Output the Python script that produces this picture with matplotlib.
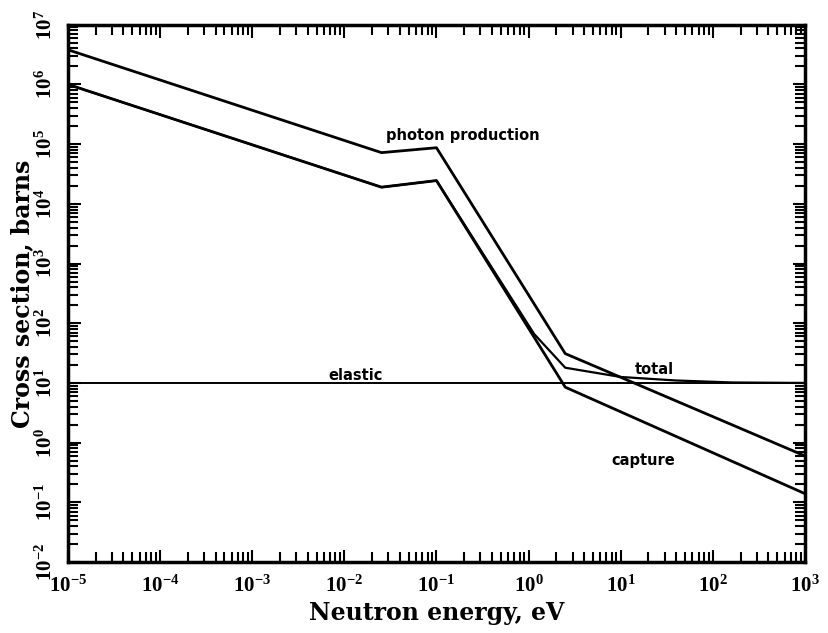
import numpy as np
import matplotlib
matplotlib.use('Agg')
import matplotlib.pyplot as plt
from matplotlib.ticker import LogLocator, FixedLocator, FixedFormatter, NullFormatter

# Mathtext in a bold serif for the 10^n tick labels
plt.rcParams['mathtext.fontset'] = 'custom'
plt.rcParams['mathtext.rm'] = 'Liberation Serif:bold'
plt.rcParams['mathtext.bf'] = 'Liberation Serif:bold'
plt.rcParams['mathtext.it'] = 'Liberation Serif:bold'

# Curve data (energy in eV, cross section in barns)
photon_energy = [1e-5, 0.0253, 0.1, 2.5, 1000]
photon_xs = [3.8e6, 7.2e4, 8.7e4, 31, 0.6]

capture_energy = [1e-5, 0.0253, 0.1, 2.5, 1000]
capture_xs = [1.0e6, 1.9e4, 2.45e4, 8.5, 0.14]

total_energy = [1e-5, 0.0253, 0.1, 1.15, 2.5, 10, 40, 160, 1000]
total_xs = [1.0e6, 1.9e4, 2.45e4, 66, 18, 12.6, 11, 10.2, 10]

elastic_energy = [1e-5, 1000]
elastic_xs = [10, 10]

x_decades = [-5, -4, -3, -2, -1, 0, 1, 2, 3]
y_decades = [-2, -1, 0, 1, 2, 3, 4, 5, 6, 7]

fig = plt.figure(figsize=(8.29, 6.33), dpi=100)
ax = fig.add_axes([0.082, 0.112, 0.889, 0.849])

ax.plot(photon_energy, photon_xs, color='black', lw=2.0)
ax.plot(capture_energy, capture_xs, color='black', lw=2.0)
ax.plot(total_energy, total_xs, color='black', lw=1.6)
ax.plot(elastic_energy, elastic_xs, color='black', lw=1.4)

ax.set_xscale('log')
ax.set_yscale('log')
ax.set_xlim(1e-5, 1e3)
ax.set_ylim(1e-2, 1e7)

# Tick labels as 10^n
xt = [10.0 ** d for d in x_decades]
yt = [10.0 ** d for d in y_decades]
ax.xaxis.set_major_locator(FixedLocator(xt))
ax.xaxis.set_major_formatter(FixedFormatter([r'$10^{%d}$' % d for d in x_decades]))
ax.yaxis.set_major_locator(FixedLocator(yt))
ax.yaxis.set_major_formatter(FixedFormatter([r'$10^{%d}$' % d for d in y_decades]))
ax.xaxis.set_minor_locator(LogLocator(base=10, subs=np.arange(2, 10), numticks=50))
ax.yaxis.set_minor_locator(LogLocator(base=10, subs=np.arange(2, 10), numticks=50))
ax.xaxis.set_minor_formatter(NullFormatter())
ax.yaxis.set_minor_formatter(NullFormatter())

ax.tick_params(which='both', direction='in', top=True, right=True,
               width=1.5, color='black')
ax.tick_params(which='major', length=9)
ax.tick_params(which='minor', length=7)
ax.tick_params(axis='x', labelsize=15, pad=9)
ax.tick_params(axis='y', labelsize=15, pad=9, labelrotation=90)
for lab in ax.get_yticklabels():
    lab.set_va('center')

for sp in ax.spines.values():
    sp.set_linewidth(2.5)

ax.set_xlabel('Neutron energy, eV', fontsize=17, fontweight='bold',
              family='DejaVu Serif', labelpad=4)
ax.set_ylabel('Cross section, barns', fontsize=17, fontweight='bold',
              family='DejaVu Serif', labelpad=0)

# Curve labels
lab_kw = dict(fontsize=10.5, fontweight='bold', family='DejaVu Sans',
              ha='center', va='center')
ax.text(0.195, 1.4e5, 'photon production', **lab_kw)
ax.text(0.0132, 13.2, 'elastic', **lab_kw)
ax.text(23, 17, 'total', **lab_kw)
ax.text(17.4, 0.51, 'capture', **lab_kw)

fig.savefig('out.png', dpi=100)
